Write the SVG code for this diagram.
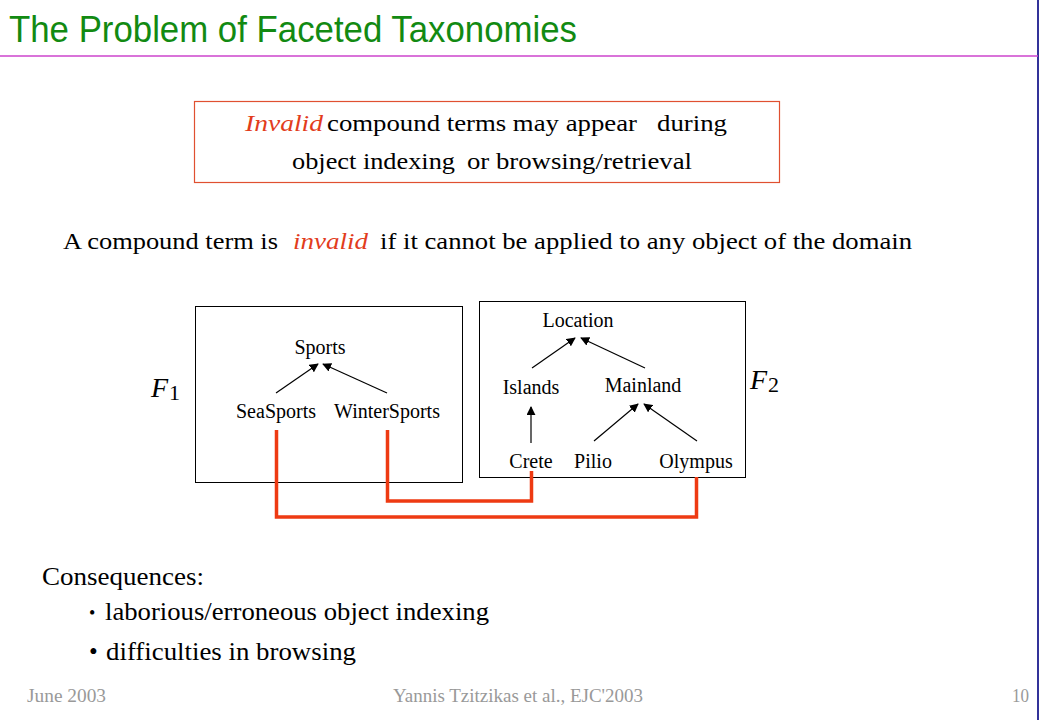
<svg xmlns="http://www.w3.org/2000/svg" width="1040" height="720" viewBox="0 0 1040 720">
<style>
.title{font-family:"Liberation Sans",Arial,sans-serif;font-size:36px;fill:#128a12}
.txt{font-family:"Liberation Serif","Times New Roman",serif;font-size:24px;fill:#000}
.big{font-size:25px}
.red{fill:#e23c1c;font-style:italic}
.lbl{font-family:"Liberation Serif","Times New Roman",serif;font-size:20px;fill:#000;text-anchor:middle}
.math{font-family:"Liberation Serif","Times New Roman",serif;font-size:28px;fill:#000;font-style:italic}
.sub{font-family:"Liberation Serif","Times New Roman",serif;font-size:22px;fill:#000}
.foot{font-family:"Liberation Serif","Times New Roman",serif;font-size:18px;fill:#999}
.box{fill:none;stroke:#000;stroke-width:1}
.edge{stroke:#000;stroke-width:1.2;fill:none;marker-end:url(#ah)}
.link{stroke:#ee3a12;stroke-width:3.5;fill:none;stroke-linejoin:miter}
</style>
<defs>
<marker id="ah" viewBox="0 0 10 10" refX="9" refY="5" markerWidth="9" markerHeight="9" markerUnits="userSpaceOnUse" orient="auto">
<path d="M0,0 L10,5 L0,10 z" fill="#000"/>
</marker>
</defs>
<rect width="1040" height="720" fill="#fff"/>
<line x1="1038" y1="0" x2="1038" y2="720" stroke="#333399" stroke-width="2"/>
<line x1="0" y1="56" x2="1038" y2="56" stroke="#cc44cc" stroke-width="1.5"/>
<text class="title" x="9" y="42" textLength="568" lengthAdjust="spacingAndGlyphs">The Problem of Faceted Taxonomies</text>

<g id="note">
<rect x="194.5" y="101.5" width="585" height="81" fill="none" stroke="#e05030" stroke-width="1.2"/>
<text class="txt red" x="245" y="131" textLength="78" lengthAdjust="spacingAndGlyphs">Invalid</text>
<text class="txt" x="327" y="131" textLength="310" lengthAdjust="spacingAndGlyphs">compound terms may appear</text>
<text class="txt" x="657" y="131" textLength="70" lengthAdjust="spacingAndGlyphs">during</text>
<text class="txt" x="292" y="169" textLength="163" lengthAdjust="spacingAndGlyphs">object indexing</text>
<text class="txt" x="467" y="169" textLength="225" lengthAdjust="spacingAndGlyphs">or browsing/retrieval</text>
</g>

<g id="definition">
<text class="txt" x="63" y="249" textLength="215" lengthAdjust="spacingAndGlyphs">A compound term is</text>
<text class="txt red" x="293" y="249" textLength="75" lengthAdjust="spacingAndGlyphs">invalid</text>
<text class="txt" x="380" y="249" textLength="532" lengthAdjust="spacingAndGlyphs">if it cannot be applied to any object of the domain</text>
</g>

<g id="F1">
<rect class="box" x="195.5" y="306.5" width="267" height="176"/>
<text class="math" x="151" y="397">F</text>
<text class="sub" x="169" y="400">1</text>
</g>
<g id="Sports"><text class="lbl" x="320" y="354">Sports</text></g>
<g id="SeaSports"><text class="lbl" x="276" y="418">SeaSports</text></g>
<g id="WinterSports"><text class="lbl" x="387" y="418">WinterSports</text></g>

<g id="F2">
<rect class="box" x="479.5" y="301.5" width="266" height="176"/>
<text class="math" x="750" y="389">F</text>
<text class="sub" x="768" y="392">2</text>
</g>
<g id="Location"><text class="lbl" x="578" y="327">Location</text></g>
<g id="Islands"><text class="lbl" x="531" y="394">Islands</text></g>
<g id="Mainland"><text class="lbl" x="643" y="392">Mainland</text></g>
<g id="Crete"><text class="lbl" x="531" y="468">Crete</text></g>
<g id="Pilio"><text class="lbl" x="593" y="468">Pilio</text></g>
<g id="Olympus"><text class="lbl" x="696" y="468">Olympus</text></g>

<g id="connectors">
<line class="edge" x1="276" y1="393" x2="318" y2="364"/>
<line class="edge" x1="387" y1="393" x2="323" y2="364"/>
<line class="edge" x1="532" y1="368" x2="575" y2="338"/>
<line class="edge" x1="645" y1="368" x2="581" y2="338"/>
<line class="edge" x1="531" y1="443" x2="531" y2="407"/>
<line class="edge" x1="594" y1="441" x2="638" y2="404"/>
<line class="edge" x1="697" y1="441" x2="644" y2="404"/>
<polyline class="link" points="276.5,430 276.5,517 696.5,517 696.5,477"/>
<polyline class="link" points="387.5,430 387.5,501 531.5,501 531.5,471"/>
</g>

<g id="consequences">
<text class="txt big" x="42" y="585" textLength="162" lengthAdjust="spacingAndGlyphs">Consequences:</text>
<text class="txt" x="89" y="619" style="font-size:18px">•</text>
<text class="txt big" x="105" y="620" textLength="384" lengthAdjust="spacingAndGlyphs">laborious/erroneous object indexing</text>
<text class="txt big" x="89" y="660">•</text>
<text class="txt big" x="106" y="660" textLength="250" lengthAdjust="spacingAndGlyphs">difficulties in browsing</text>
</g>

<g id="footer">
<text class="foot" x="27" y="702" textLength="79" lengthAdjust="spacingAndGlyphs">June 2003</text>
<text class="foot" x="393" y="702" textLength="250" lengthAdjust="spacingAndGlyphs">Yannis Tzitzikas et al., EJC'2003</text>
<text class="foot" x="1012" y="702" textLength="17" lengthAdjust="spacingAndGlyphs">10</text>
</g>
</svg>
